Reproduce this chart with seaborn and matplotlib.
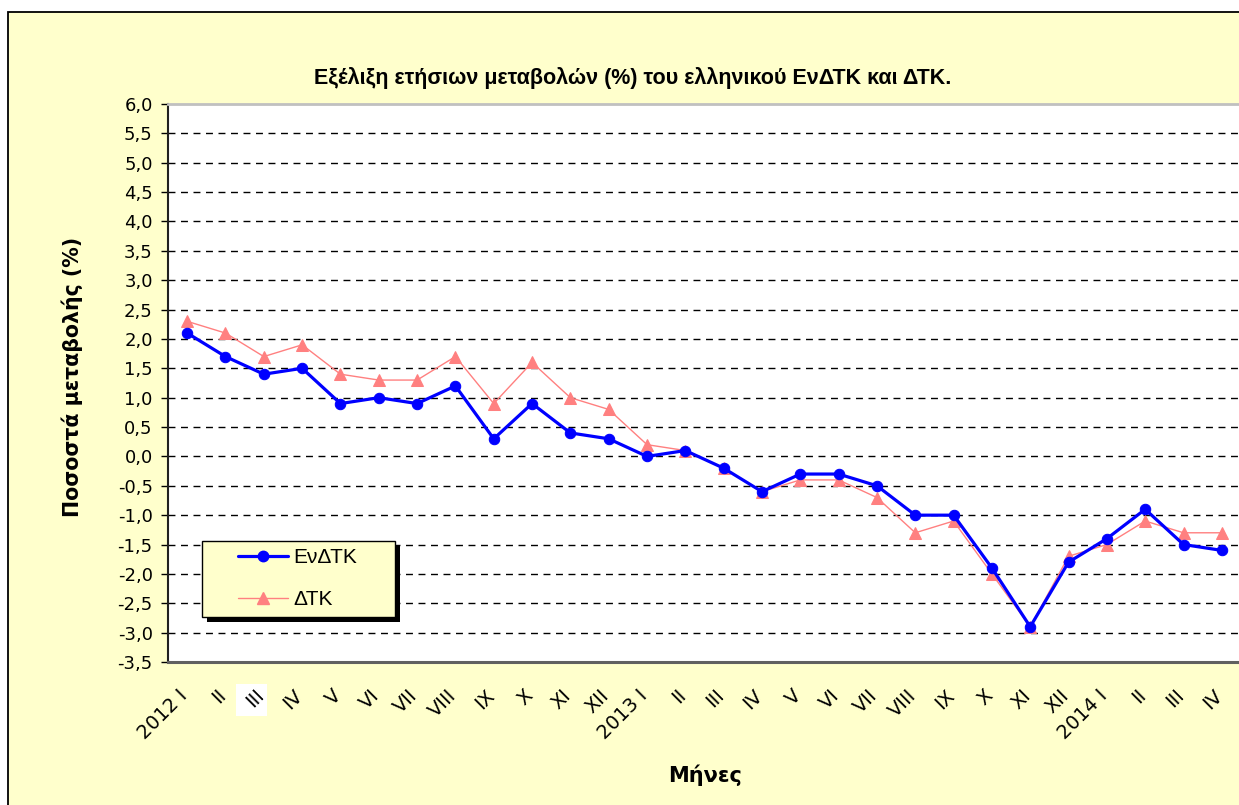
import numpy as np
import pandas as pd
import matplotlib
matplotlib.use("Agg")
import matplotlib.pyplot as plt
import matplotlib.transforms as mtransforms
from matplotlib.patches import Rectangle
import seaborn as sns

# data
months = ["2012 I", "II", "III", "IV", "V", "VI", "VII", "VIII", "IX", "X", "XI", "XII",
          "2013 I", "II", "III", "IV", "V", "VI", "VII", "VIII", "IX", "X", "XI", "XII",
          "2014 I", "II", "III", "IV"]
hicp = [2.1, 1.7, 1.4, 1.5, 0.9, 1.0, 0.9, 1.2, 0.3, 0.9, 0.4, 0.3,
        0.0, 0.1, -0.2, -0.6, -0.3, -0.3, -0.5, -1.0, -1.0, -1.9, -2.9, -1.8,
        -1.4, -0.9, -1.5, -1.6]
cpi = [2.3, 2.1, 1.7, 1.9, 1.4, 1.3, 1.3, 1.7, 0.9, 1.6, 1.0, 0.8,
       0.2, 0.1, -0.2, -0.6, -0.4, -0.4, -0.7, -1.3, -1.1, -2.0, -2.9, -1.7,
       -1.5, -1.1, -1.3, -1.3]
yticks = np.arange(-3.5, 6.01, 0.5)

df = pd.DataFrame({"pos": np.arange(len(months)), "hicp": hicp, "cpi": cpi})

sns.set_style("white")
plt.rcParams["font.family"] = ["Liberation Sans", "DejaVu Sans"]
plt.rcParams["text.color"] = "black"
plt.rcParams["xtick.color"] = "black"
plt.rcParams["ytick.color"] = "black"

W, H = 1239, 805
fig = plt.figure(figsize=(W / 100, H / 100), dpi=100, facecolor="white")


def fx(px):
    return px / W


def fy(px):
    return 1 - px / H


# yellow chart frame (right side runs off the picture)
fig.patches.append(Rectangle((fx(8), -0.01), 1.0, fy(12) + 0.01,
                             transform=fig.transFigure, facecolor="#FFFFCC",
                             edgecolor="black", linewidth=1.3, zorder=-10))
# white selection box behind the third month label
fig.patches.append(Rectangle((fx(236), fy(716)), 31 / W, 32 / H,
                             transform=fig.transFigure, facecolor="white",
                             edgecolor="none", zorder=-5))

ax = fig.add_axes([fx(168), fy(662), (1241 - 168) / W, 558 / H])
ax.set_facecolor("white")

sns.lineplot(data=df, x="pos", y="hicp", ax=ax, color="#0000FF", linewidth=2.3,
             marker="o", markersize=7.5, markeredgecolor="#0000FF", zorder=4)
sns.lineplot(data=df, x="pos", y="cpi", ax=ax, color="#FF8080", linewidth=1.0,
             marker="^", markersize=8.5, markeredgecolor="#FF8080", zorder=3)

ax.set_xlim(-0.5, len(months) - 0.5)
ax.set_ylim(-3.5, 6.0)
ax.set_yticks(yticks)
ax.set_yticklabels([f"{v:.1f}".replace(".", ",") for v in yticks],
                   fontsize=13, family="DejaVu Sans")
for v in yticks[1:-1]:
    ax.axhline(v, color="black", linewidth=1.0, linestyle=(0, (5, 4)), zorder=1)

ax.set_xticks(np.arange(len(months)))
ax.set_xticklabels(months, rotation=45, ha="right", va="top", rotation_mode="anchor",
                   fontsize=14, family="DejaVu Sans")
ax.set_xticks(np.arange(-0.5, len(months), 1.0), minor=True)
ax.tick_params(axis="x", which="major", length=0, pad=17)
ax.tick_params(axis="x", which="minor", length=5, width=1, direction="out", color="black")
ax.tick_params(axis="y", length=5, width=1, direction="out", color="black", pad=6, left=True)
offset = mtransforms.ScaledTranslation(-9 / 100, 0, fig.dpi_scale_trans)
for lab in ax.get_xticklabels():
    lab.set_transform(lab.get_transform() + offset)

ax.spines["right"].set_visible(False)
ax.spines["top"].set_color("#C0C0C0")
ax.spines["top"].set_linewidth(2)
ax.spines["left"].set_color("#202020")
ax.spines["left"].set_linewidth(1.5)
ax.spines["bottom"].set_color("#606060")
ax.spines["bottom"].set_linewidth(2.2)

ax.set_xlabel("")
ax.set_ylabel("")
fig.text(fx(72), fy(377), "Ποσοστά μεταβολής (%)", rotation=90, ha="center",
         va="center", fontsize=14.8, fontweight="bold", family="DejaVu Sans")
fig.text(fx(705), fy(775), "Μήνες", ha="center", va="center",
         fontsize=15, fontweight="bold", family="DejaVu Sans")
fig.text(fx(633), fy(78), "Εξέλιξη ετήσιων μεταβολών (%) του ελληνικού ΕνΔΤΚ και ΔΤΚ.",
         ha="center", va="center", fontsize=15.5, fontweight="bold")

# legend box with a hard black shadow, drawn by hand
fig.patches.append(Rectangle((fx(207), fy(622)), 193 / W, 76 / H, transform=fig.transFigure,
                             facecolor="black", edgecolor="none", zorder=20))
fig.patches.append(Rectangle((fx(202), fy(617)), 193 / W, 76 / H, transform=fig.transFigure,
                             facecolor="#FFFFCC", edgecolor="black", linewidth=1, zorder=21))
h1 = plt.Line2D([], [], color="#0000FF", linewidth=2.3, marker="o", markersize=7.5)
h2 = plt.Line2D([], [], color="#FF8080", linewidth=1.0, marker="^", markersize=8.5)
leg = fig.legend([h1, h2], ["ΕνΔΤΚ", "ΔΤΚ"], loc="upper left",
                 bbox_to_anchor=(fx(238), fy(548)), frameon=False, fontsize=15,
                 handlelength=2.4, handletextpad=0.25, borderpad=0, borderaxespad=0,
                 labelspacing=1.1)
leg.set_zorder(22)

fig.savefig("out.png", dpi=100, facecolor=fig.get_facecolor())
